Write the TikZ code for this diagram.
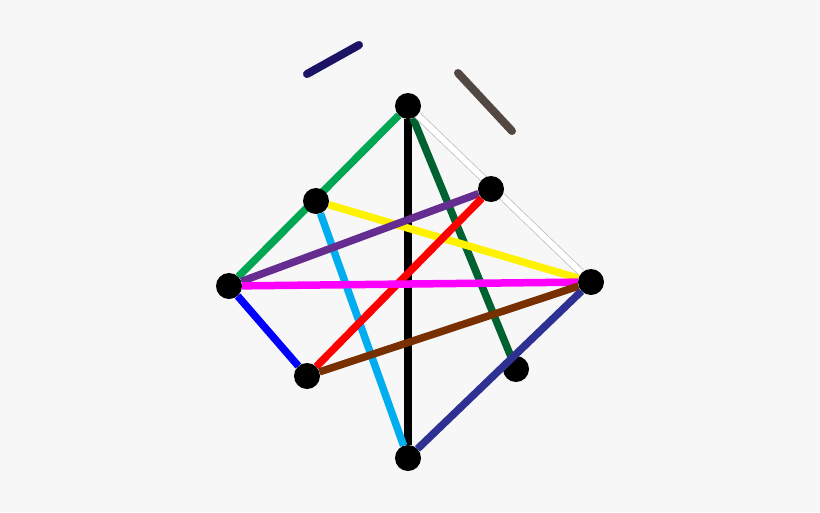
\documentclass[tikz,border=0pt]{standalone}
\usetikzlibrary{backgrounds}
\definecolor{bgcol}{RGB}{247,247,247}
\definecolor{grn}{RGB}{0,166,81}
\definecolor{dkgrn}{RGB}{0,98,48}
\definecolor{ylw}{RGB}{255,242,0}
\definecolor{skyblue}{RGB}{0,174,239}
\definecolor{purp}{RGB}{102,45,145}
\definecolor{purered}{RGB}{255,0,0}
\definecolor{pureblue}{RGB}{0,0,255}
\definecolor{puremag}{RGB}{255,0,255}
\definecolor{brwn}{RGB}{120,48,0}
\definecolor{navy}{RGB}{46,49,146}
\definecolor{dknavy}{RGB}{27,20,100}
\definecolor{taupe}{RGB}{83,71,65}

\tikzset{
	dot/.style={circle, fill=black, minimum size=26pt, inner sep=0pt},
	edge/.style={line width=7.5pt},
	stick/.style={line width=8pt, line cap=round}
}

\begin{document}
\begin{tikzpicture}[x=1pt, y=-1pt]
			\useasboundingbox (0, 0) rectangle (820, 512);

			\draw (408, 106) 	node[dot] 	(top) 		{};
			\draw (316, 201) 	node[dot] 	(ul) 		{};
			\draw (491, 189) 	node[dot] 	(ur) 		{};
			\draw (229, 286) 	node[dot] 	(left) 		{};
			\draw (591, 282) 	node[dot] 	(right) 	{};
			\draw (307, 376) 	node[dot] 	(ll) 		{};
			\draw (516, 369) 	node[dot] 	(lr) 		{};
			\draw (408, 458) 	node[dot] 	(bottom) 	{};

			\coordinate (s1a) at (307, 74);
			\coordinate (s1b) at (359, 45);
			\coordinate (s2a) at (458, 73);
			\coordinate (s2b) at (512, 131);

			\begin{scope}[on background layer]
			\fill[bgcol] (0, 0) rectangle (820, 512);
			\draw[edge, grn] (top) -- (left);
			\draw[edge, black] (top) -- (bottom);
			\draw[edge, dkgrn] (top) -- (lr);
			\draw[line width=0.8pt, draw=black!25, double=white, double distance=6pt] (top) -- (right);
			\draw[edge, ylw] (ul) -- (right);
			\draw[edge, skyblue] (ul) -- (bottom);
			\draw[edge, purp] (ur) -- (left);
			\draw[edge, purered] (ur) -- (ll);
			\draw[edge, puremag] (left) -- (right);
			\draw[edge, pureblue] (left) -- (ll);
			\draw[edge, brwn] (ll) -- (right);
			\end{scope}
			\draw[edge, navy] (bottom) -- (right);

			\draw[stick, dknavy] (s1a) -- (s1b);
			\draw[stick, taupe] (s2a) -- (s2b);
		\end{tikzpicture}
\end{document}
